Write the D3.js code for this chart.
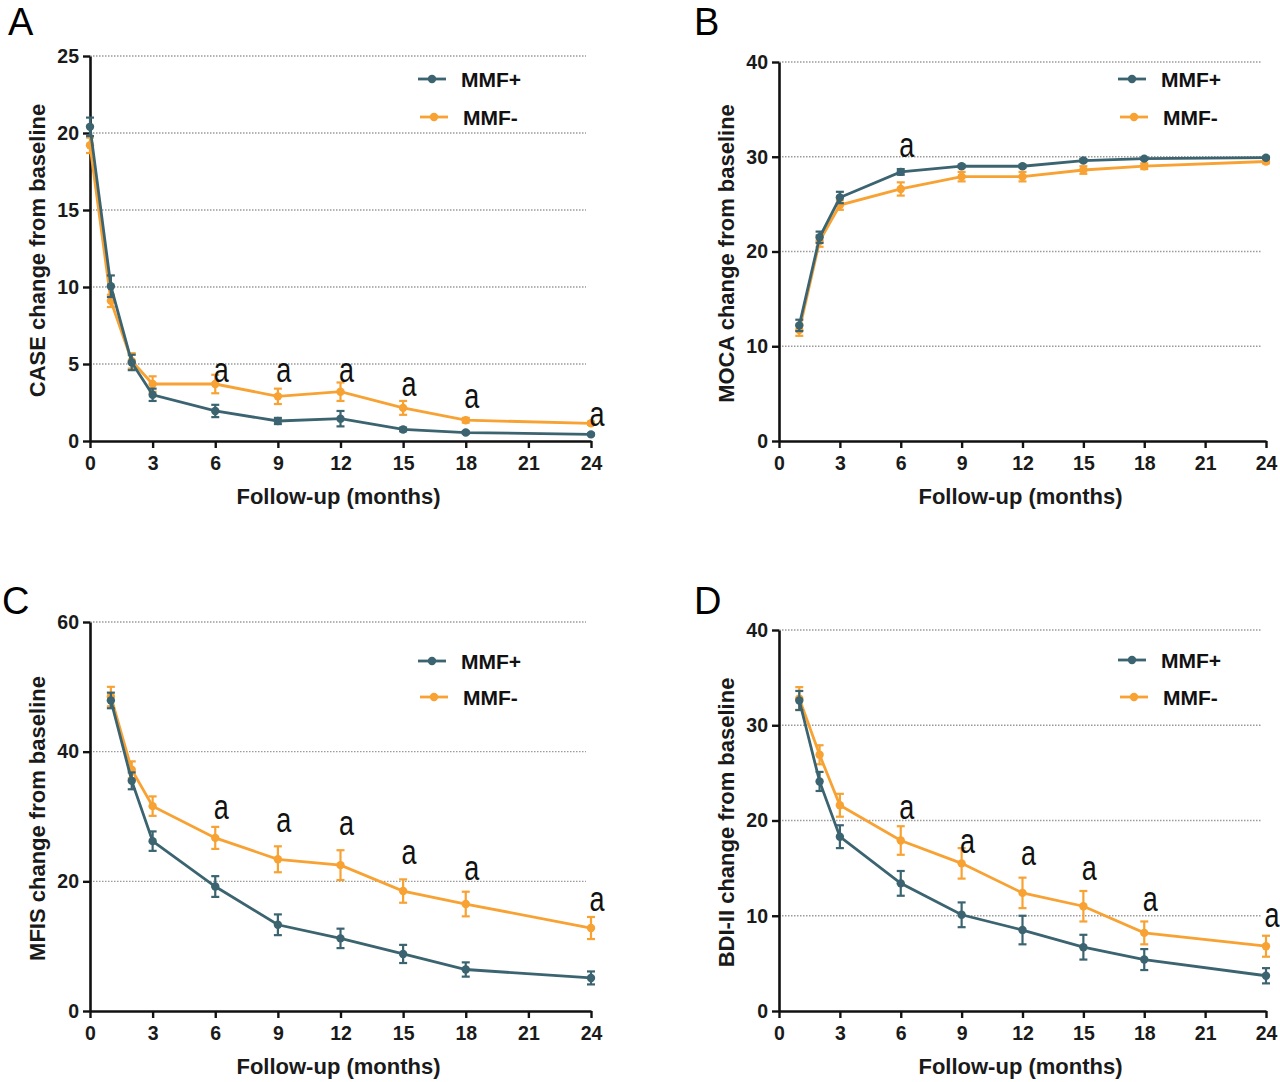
<!DOCTYPE html>
<html>
<head>
<meta charset="utf-8">
<script src="https://cdn.jsdelivr.net/npm/d3@7"></script>
<style>
  body { margin: 0; background: #fff; }
  svg { display: block; }
</style>
</head>
<body>
<div class="canvas"></div>
<script>
// ---- data ----
const groups = ["MMF+", "MMF-"]
const xTicks = [0, 3, 6, 9, 12, 15, 18, 21, 24]

// A: CASE
const caseMonths = [0, 1, 2, 3, 6, 9, 12, 15, 18, 24]
const casePlus = [20.4, 10.05, 5.1, 3.0, 1.95, 1.3, 1.45, 0.75, 0.55, 0.43]
const casePlusErr = [0.6, 0.7, 0.5, 0.4, 0.4, 0.2, 0.5, 0.12, 0.08, 0.06]
const caseMinus = [19.2, 9.1, 5.2, 3.7, 3.7, 2.9, 3.2, 2.15, 1.35, 1.15]
const caseMinusErr = [0.5, 0.4, 0.5, 0.5, 0.6, 0.5, 0.6, 0.45, 0.15, 0.1]
const caseMarkX = [6, 9, 12, 15, 18, 24]
const caseMarkY = [4.5, 4.5, 4.5, 3.55, 2.8, 1.6]
const caseTicks = [0, 5, 10, 15, 20, 25]

// B: MOCA
const mocaMonths = [1, 2, 3, 6, 9, 12, 15, 18, 24]
const mocaPlus = [12.2, 21.5, 25.7, 28.4, 29.0, 29.0, 29.6, 29.8, 29.9]
const mocaPlusErr = [0.6, 0.6, 0.6, 0.3, 0.15, 0.15, 0.15, 0.1, 0.1]
const mocaMinus = [11.7, 21.1, 24.9, 26.6, 27.9, 27.9, 28.6, 29.0, 29.5]
const mocaMinusErr = [0.6, 0.6, 0.5, 0.7, 0.5, 0.5, 0.4, 0.3, 0.2]
const mocaMarkX = [6]
const mocaMarkY = [31.0]
const mocaTicks = [0, 10, 20, 30, 40]

// C: MFIS
const mfisMonths = [1, 2, 3, 6, 9, 12, 15, 18, 24]
const mfisPlus = [47.9, 35.5, 26.2, 19.2, 13.3, 11.2, 8.8, 6.4, 5.1]
const mfisPlusErr = [1.2, 1.3, 1.5, 1.6, 1.6, 1.5, 1.4, 1.1, 1.0]
const mfisMinus = [48.5, 37.2, 31.6, 26.7, 23.4, 22.5, 18.5, 16.5, 12.8]
const mfisMinusErr = [1.5, 1.3, 1.5, 1.7, 2.0, 2.3, 1.8, 1.9, 1.7]
const mfisMarkX = [6, 9, 12, 15, 18, 24]
const mfisMarkY = [31.1, 29.1, 28.6, 24.2, 21.8, 16.9]
const mfisTicks = [0, 20, 40, 60]

// D: BDI-II
const bdiMonths = [1, 2, 3, 6, 9, 12, 15, 18, 24]
const bdiPlus = [32.6, 24.1, 18.3, 13.4, 10.1, 8.5, 6.7, 5.4, 3.7]
const bdiPlusErr = [1.0, 1.0, 1.2, 1.3, 1.3, 1.5, 1.3, 1.1, 0.8]
const bdiMinus = [32.8, 26.9, 21.6, 17.9, 15.5, 12.4, 11.0, 8.2, 6.8]
const bdiMinusErr = [1.2, 1.0, 1.2, 1.5, 1.6, 1.6, 1.6, 1.2, 1.1]
const bdiMarkX = [6, 9, 12, 15, 18, 24]
const bdiMarkY = [21.2, 17.6, 16.4, 14.8, 11.5, 9.9]
const bdiTicks = [0, 10, 20, 30, 40]

const colors = d3.scaleOrdinal().domain(groups).range(["#3b6470", "#f7a233"])

const svg = d3
  .select(".canvas")
  .append("svg")
  .attr("width", 1280)
  .attr("height", 1082)

const font = "'Liberation Sans', Arial, sans-serif"

const panels = [
  { letter: "A", lx: 8, ly: 35, left: 90, right: 591, top: 56, bottom: 441, legX: 418, legY: 79, legGap: 38,
    title: "CASE change from baseline", months: caseMonths, plus: casePlus, plusErr: casePlusErr,
    minus: caseMinus, minusErr: caseMinusErr, markX: caseMarkX, markY: caseMarkY, yTicks: caseTicks },
  { letter: "B", lx: 694, ly: 35, left: 779, right: 1266, top: 62, bottom: 441, legX: 1118, legY: 79, legGap: 38,
    title: "MOCA change from baseline", months: mocaMonths, plus: mocaPlus, plusErr: mocaPlusErr,
    minus: mocaMinus, minusErr: mocaMinusErr, markX: mocaMarkX, markY: mocaMarkY, yTicks: mocaTicks },
  { letter: "C", lx: 2, ly: 614, left: 90, right: 591, top: 622, bottom: 1011, legX: 418, legY: 661, legGap: 36,
    title: "MFIS change from baseline", months: mfisMonths, plus: mfisPlus, plusErr: mfisPlusErr,
    minus: mfisMinus, minusErr: mfisMinusErr, markX: mfisMarkX, markY: mfisMarkY, yTicks: mfisTicks },
  { letter: "D", lx: 694, ly: 614, left: 779, right: 1266, top: 630, bottom: 1011, legX: 1118, legY: 660, legGap: 37,
    title: "BDI-II change from baseline", months: bdiMonths, plus: bdiPlus, plusErr: bdiPlusErr,
    minus: bdiMinus, minusErr: bdiMinusErr, markX: bdiMarkX, markY: bdiMarkY, yTicks: bdiTicks }
]

panels.forEach(p => drawPanel(p))

function drawPanel(p) {
  const g = svg.append("g")
  const x = d3.scaleLinear().domain([0, 24]).range([p.left, p.right])
  const y = d3.scaleLinear().domain([0, d3.max(p.yTicks)]).range([p.bottom, p.top])

  // panel letter
  g.append("text")
    .attr("x", p.lx).attr("y", p.ly)
    .attr("font-family", font).attr("font-size", 38)
    .text(p.letter)

  // dotted grid
  g.selectAll(".grid")
    .data(p.yTicks.filter(d => d > 0))
    .enter()
    .append("line")
    .attr("x1", p.left).attr("x2", p.right - 5)
    .attr("y1", d => y(d)).attr("y2", d => y(d))
    .attr("stroke", "#9a9a9a").attr("stroke-width", 1.3)
    .attr("stroke-dasharray", "1.5,1.5")

  // axes
  const xAxis = g.append("g")
    .attr("transform", `translate(0,${p.bottom})`)
    .call(d3.axisBottom(x).tickValues(xTicks).tickSize(7).tickSizeOuter(0))
  const yAxis = g.append("g")
    .attr("transform", `translate(${p.left},0)`)
    .call(d3.axisLeft(y).tickValues(p.yTicks).tickSize(7).tickSizeOuter(0))
  ;[xAxis, yAxis].forEach(a => {
    a.select(".domain").attr("stroke", "#111").attr("stroke-width", 2.6)
    a.selectAll(".tick line").attr("stroke", "#111").attr("stroke-width", 2.4)
    a.selectAll(".tick text")
      .attr("font-family", font).attr("font-size", 19.5).attr("font-weight", "bold")
      .attr("fill", "#1a1a1a")
  })
  xAxis.selectAll(".tick text").attr("dy", "0.95em")
  yAxis.selectAll(".tick text").attr("dx", "-0.05em")

  // axis titles
  g.append("text")
    .attr("x", (p.left + p.right) / 2 - 2).attr("y", p.bottom + 63)
    .attr("text-anchor", "middle")
    .attr("font-family", font).attr("font-size", 22).attr("font-weight", "bold")
    .attr("fill", "#1a1a1a")
    .text("Follow-up (months)")
  g.append("text")
    .attr("transform", `translate(${p.left - 45},${(p.top + p.bottom) / 2 + 2}) rotate(-90)`)
    .attr("text-anchor", "middle")
    .attr("font-family", font).attr("font-size", 22).attr("font-weight", "bold")
    .attr("fill", "#1a1a1a")
    .text(p.title)

  const series = [
    { name: groups[0], vals: p.plus, errs: p.plusErr },
    { name: groups[1], vals: p.minus, errs: p.minusErr }
  ]
  // orange drawn first, teal on top
  ;[series[1], series[0]].forEach(s => {
    const pts = p.months.map((m, i) => ({ m, v: s.vals[i], e: s.errs[i] }))
    const c = colors(s.name)
    const line = d3.line().x(d => x(d.m)).y(d => y(d.v))
    g.append("path")
      .datum(pts)
      .attr("d", line)
      .attr("fill", "none").attr("stroke", c).attr("stroke-width", 2.8)
    const eb = g.append("g").selectAll("g").data(pts).enter().append("g")
    eb.append("line")
      .attr("x1", d => x(d.m)).attr("x2", d => x(d.m))
      .attr("y1", d => y(d.v - d.e)).attr("y2", d => y(d.v + d.e))
      .attr("stroke", c).attr("stroke-width", 2.2)
    ;[-1, 1].forEach(sign => {
      eb.append("line")
        .attr("x1", d => x(d.m) - 4).attr("x2", d => x(d.m) + 4)
        .attr("y1", d => y(d.v + sign * d.e)).attr("y2", d => y(d.v + sign * d.e))
        .attr("stroke", c).attr("stroke-width", 2.2)
    })
    eb.append("circle")
      .attr("cx", d => x(d.m)).attr("cy", d => y(d.v))
      .attr("r", 4.2).attr("fill", c)
  })

  // significance marks (glyph is tall in the original, so stretch vertically)
  g.selectAll(".mark")
    .data(p.markX.map((m, i) => ({ m, v: p.markY[i] })))
    .enter()
    .append("text")
    .attr("transform", d => `translate(${x(d.m) + 6},${y(d.v)}) scale(1,1.3)`)
    .attr("dy", "0.28em")
    .attr("text-anchor", "middle")
    .attr("font-family", font).attr("font-size", 27)
    .attr("fill", "#111")
    .text("a")

  // legend
  const leg = g.append("g")
  series.forEach((s, i) => {
    const ly = p.legY + i * p.legGap
    const dx = i * 2
    leg.append("line")
      .attr("x1", p.legX + dx).attr("x2", p.legX + dx + 28)
      .attr("y1", ly).attr("y2", ly)
      .attr("stroke", colors(s.name)).attr("stroke-width", 2.8)
    leg.append("circle")
      .attr("cx", p.legX + dx + 14).attr("cy", ly).attr("r", 4.2)
      .attr("fill", colors(s.name))
    leg.append("text")
      .attr("x", p.legX + 43 + dx).attr("y", ly).attr("dy", "0.36em")
      .attr("font-family", font).attr("font-size", 21).attr("font-weight", "bold")
      .attr("fill", "#111")
      .text(s.name)
  })
}
</script>
</body>
</html>
